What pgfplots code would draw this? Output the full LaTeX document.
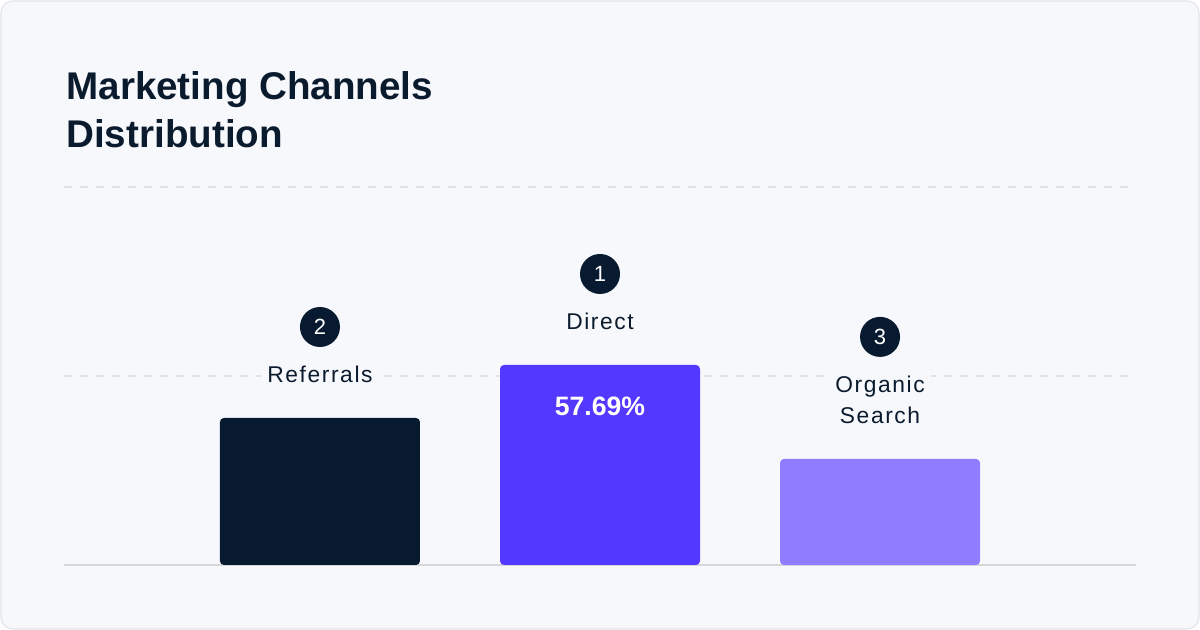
\documentclass[border=0pt]{standalone}
\usepackage{fontspec}
\setmainfont{Liberation Sans}
\newfontfamily\labfont[LetterSpace=7]{Liberation Sans}
\usepackage{pgfplots}
\pgfplotsset{compat=1.18}
\definecolor{bg}{HTML}{F7F8FC}
\definecolor{frame}{HTML}{E1E4E8}
\definecolor{ink}{HTML}{0B1B2E}
\definecolor{navy}{HTML}{071A2F}
\definecolor{direct}{HTML}{5338FF}
\definecolor{organic}{HTML}{8F7CFF}
\definecolor{gridc}{HTML}{E1E3E7}
\definecolor{basec}{HTML}{D5D7DB}
\tikzset{
  chlabel/.style={anchor=base, fill=bg, inner xsep=3pt, inner ysep=1pt, text=ink,
    font=\fontsize{11.4}{15.5}\selectfont},
  badge/.style={circle, fill=navy, text=white, minimum size=20pt, inner sep=0pt,
    anchor=center, font=\fontsize{11}{11}\selectfont},
}

\begin{document}
\begin{tikzpicture}[x=1pt,y=1pt]
\useasboundingbox (0,0) rectangle (600,315);
\fill[white] (0,0) rectangle (600,315);
\draw[frame, fill=bg, rounded corners=6pt, line width=0.6pt] (0.5,0.5) rectangle (599.5,314.5);
\node[anchor=base west, inner sep=0, text=ink, font=\fontsize{19.3}{24}\selectfont\bfseries] at (33,265) {Marketing Channels};
\node[anchor=base west, inner sep=0, text=ink, font=\fontsize{19.3}{24}\selectfont\bfseries] at (33,241) {Distribution};

\begin{axis}[
  at={(32pt,32.5pt)}, anchor=south west, scale only axis,
  width=536pt, height=189pt,
  xmin=-0.914, xmax=2.914, ymin=0, ymax=109.03,
  axis line style={draw=none},
  xtick=\empty, ytick={54.5,109.03}, yticklabels={}, major tick length=0pt,
  ymajorgrids, grid style={gridc, line width=1pt, dash pattern=on 4pt off 4pt},
  extra y ticks={0}, extra y tick labels={},
  extra y tick style={grid style={basec, line width=1pt, solid}},
  clip=false,
]
% bars
\addplot[ybar, bar width=100pt, bar shift=0pt, fill=navy, draw=none, rounded corners=2pt,
  nodes near coords={\labfont Referrals},
  every node near coord/.append style={chlabel, yshift=17.5pt}]
  coordinates {(0,42.4)};
\addplot[ybar, bar width=100pt, bar shift=0pt, fill=direct, draw=none, rounded corners=2pt,
  nodes near coords={\labfont Direct},
  every node near coord/.append style={chlabel, yshift=17.5pt}]
  coordinates {(1,57.69)};
\addplot[ybar, bar width=100pt, bar shift=0pt, fill=organic, draw=none, rounded corners=2pt,
  nodes near coords={\labfont\begin{tabular}[b]{@{}c@{}}Organic\\Search\end{tabular}},
  every node near coord/.append style={chlabel, yshift=17.5pt}]
  coordinates {(2,30.6)};
% rank badges
\addplot[draw=none, mark=none, point meta=explicit symbolic, nodes near coords,
  every node near coord/.append style={badge, yshift=45.5pt}]
  coordinates {(0,42.4) [2] (1,57.69) [1]};
\addplot[draw=none, mark=none, point meta=explicit symbolic, nodes near coords,
  every node near coord/.append style={badge, yshift=61pt}]
  coordinates {(2,30.6) [3]};
% value on the leading bar
\addplot[draw=none, mark=none, point meta=y,
  nodes near coords={\pgfmathprintnumber[fixed,fixed zerofill,precision=2,assume math mode=true]{\pgfplotspointmeta}\%},
  every node near coord/.append style={anchor=base, yshift=-25.5pt, text=white,
    font=\fontsize{13.3}{16}\selectfont\bfseries}]
  coordinates {(1,57.69)};
\end{axis}
\end{tikzpicture}
\end{document}
